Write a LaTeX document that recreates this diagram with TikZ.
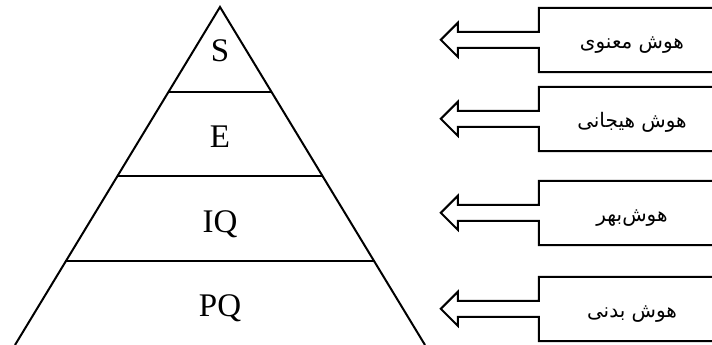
\documentclass[tikz,border=0pt]{standalone}
\usepackage{fontspec}
\setmainfont{Liberation Serif}
\newfontfamily\farsifont[Script=Arabic]{DejaVu Sans}
\TeXXeTstate=1
\usetikzlibrary{calc}

\begin{document}
\begin{tikzpicture}[
  x=1pt, y=-1pt,
  pyrline/.style={line width=2pt, line join=miter},
  tierlabel/.style={anchor=base, inner sep=0pt, font=\fontsize{33}{36}\selectfont},
  labelbox/.style={rectangle, draw=none, minimum width=186pt, minimum height=64pt,
               inner sep=0pt, text height=17pt, text depth=0pt,
               font=\fontsize{20}{24}\farsifont},
  boxline/.style={line width=2pt, line join=miter},
]
\useasboundingbox (0,0) rectangle (712,345);

% pyramid
\coordinate (apex) at (220,7);
\coordinate (bl) at (15,345);
\coordinate (br) at (425,345);
\draw[pyrline] (bl) -- (apex) -- (br);
\foreach \f in {0.25,0.5,0.75} {
  \draw[pyrline] ($(apex)!\f!(bl)$) -- ($(apex)!\f!(br)$);
}

\node[tierlabel] (s)  at (220,62)  {S};
\node[tierlabel] (e)  at (220,147) {E};
\node[tierlabel] (iq) at (220,232) {IQ};
\node[tierlabel] (pq) at (220,316) {PQ};

% boxes with arrows pointing to the pyramid
\foreach \n/\yc/\txt in {1/40/{هوش معنوی}, 2/119/{هوش هیجانی},
                         3/213/{هوش^^^^200cبهر}, 4/309/{هوش بدنی}} {
  \node[labelbox] (b\n) at (632,\yc) {\beginR\txt\endR};
  \draw[boxline] (b\n.north east) -- (b\n.north west) -- ++(0,24) -- ++(-81,0)
    -- ++(0,-9) -- ++(-17,17) -- ++(17,17) -- ++(0,-9) -- ++(81,0)
    -- (b\n.south west) -- (b\n.south east);
}

\end{tikzpicture}
\end{document}
